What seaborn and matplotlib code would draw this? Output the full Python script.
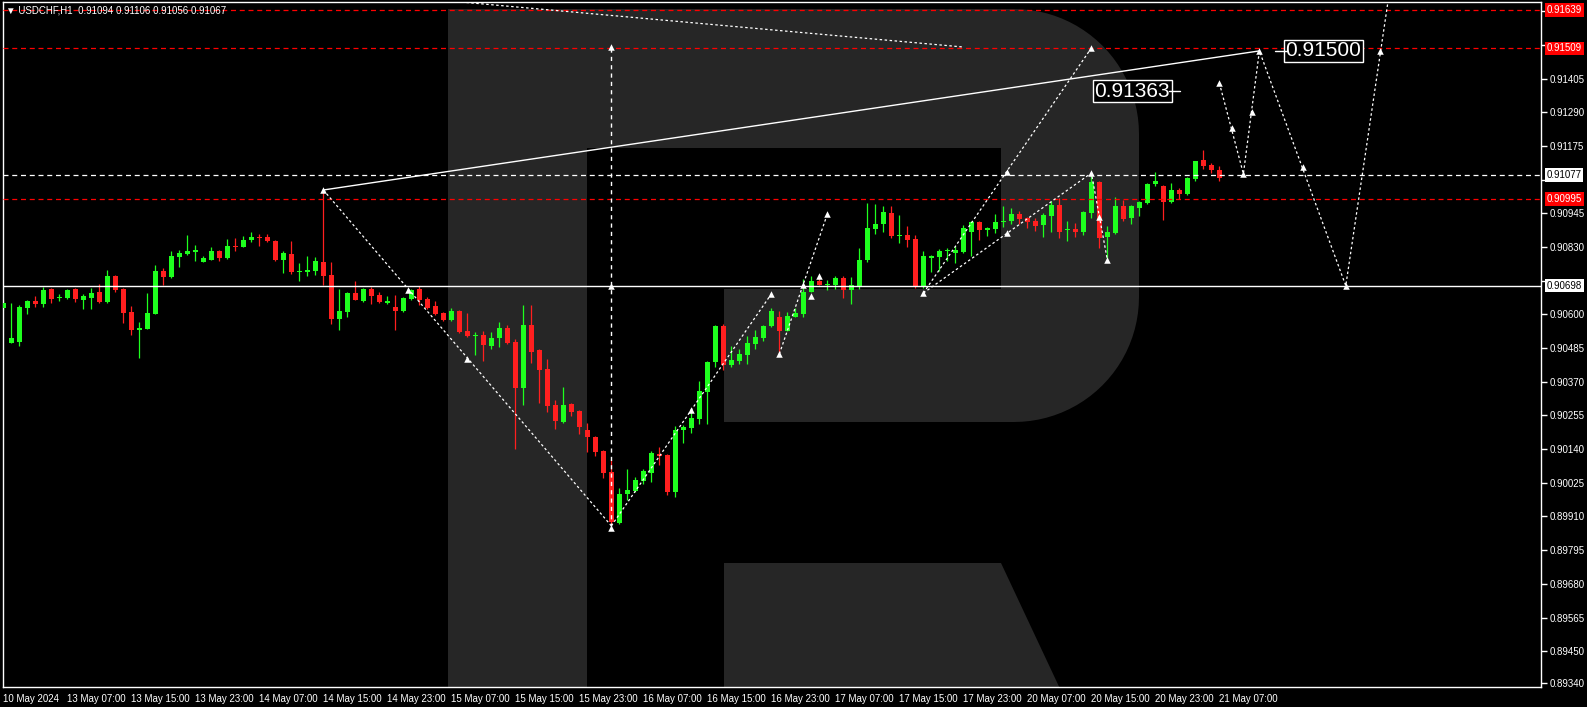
import numpy as np
import pandas as pd
import seaborn as sns
import matplotlib
matplotlib.use('Agg')
import matplotlib.pyplot as plt
import matplotlib.transforms as mtransforms
from matplotlib.path import Path
from matplotlib.patches import PathPatch

# USDCHF H1, velas desde 10 May 23:00 hasta 21 May 07:00 (indice = barra)
opens = [0.90622, 0.90503, 0.90506, 0.90622, 0.90646, 0.90636, 0.90687, 0.90656, 0.90656, 0.90687,
         0.90650, 0.90656, 0.90677, 0.90643, 0.90731, 0.90687, 0.90609, 0.90547, 0.90550, 0.90602,
         0.90749, 0.90728, 0.90796, 0.90807, 0.90813, 0.90779, 0.90786, 0.90817, 0.90793, 0.90834,
         0.90831, 0.90854, 0.90865, 0.90865, 0.90851, 0.90786, 0.90807, 0.90745, 0.90745, 0.90749,
         0.90779, 0.90735, 0.90585, 0.90609, 0.90673, 0.90646, 0.90687, 0.90667, 0.90639, 0.90626,
         0.90612, 0.90653, 0.90687, 0.90653, 0.90629, 0.90605, 0.90581, 0.90612, 0.90544, 0.90527,
         0.90530, 0.90492, 0.90520, 0.90554, 0.90506, 0.90349, 0.90564, 0.90479, 0.90414, 0.90291,
         0.90233, 0.90294, 0.90270, 0.90206, 0.90182, 0.90134, 0.90062, 0.89888, 0.89987, 0.89997,
         0.90031, 0.90059, 0.90124, 0.90121, 0.89994, 0.90206, 0.90212, 0.90243, 0.90335, 0.90438,
         0.90561, 0.90427, 0.90441, 0.90462, 0.90499, 0.90520, 0.90561, 0.90592, 0.90544, 0.90592,
         0.90602, 0.90677, 0.90714, 0.90701, 0.90701, 0.90725, 0.90684, 0.90694, 0.90786, 0.90892,
         0.90909, 0.90947, 0.90868, 0.90871, 0.90858, 0.90694, 0.90793, 0.90796, 0.90817, 0.90810,
         0.90813, 0.90882, 0.90916, 0.90889, 0.90892, 0.90916, 0.90919, 0.90943, 0.90930, 0.90919,
         0.90906, 0.90936, 0.90974, 0.90889, 0.90892, 0.90882, 0.90947, 0.91052, 0.90865, 0.90878,
         0.90971, 0.90930, 0.90964, 0.90981, 0.91046, 0.91039, 0.90984, 0.91025, 0.91011, 0.91063,
         0.91128, 0.91111, 0.91094]
highs = [0.90650, 0.90639, 0.90632, 0.90648, 0.90663, 0.90694, 0.90689, 0.90670, 0.90687, 0.90689,
         0.90670, 0.90691, 0.90704, 0.90752, 0.90735, 0.90689, 0.90629, 0.90574, 0.90673, 0.90769,
         0.90759, 0.90817, 0.90820, 0.90871, 0.90837, 0.90800, 0.90831, 0.90820, 0.90858, 0.90861,
         0.90868, 0.90882, 0.90875, 0.90875, 0.90854, 0.90817, 0.90851, 0.90776, 0.90800, 0.90796,
         0.91025, 0.90779, 0.90687, 0.90675, 0.90714, 0.90691, 0.90694, 0.90677, 0.90663, 0.90667,
         0.90658, 0.90687, 0.90697, 0.90660, 0.90646, 0.90609, 0.90622, 0.90615, 0.90605, 0.90540,
         0.90544, 0.90540, 0.90574, 0.90564, 0.90516, 0.90632, 0.90632, 0.90481, 0.90448, 0.90308,
         0.90352, 0.90296, 0.90272, 0.90229, 0.90184, 0.90136, 0.90103, 0.90008, 0.90072, 0.90045,
         0.90072, 0.90134, 0.90148, 0.90123, 0.90219, 0.90223, 0.90277, 0.90373, 0.90440, 0.90564,
         0.90567, 0.90492, 0.90482, 0.90527, 0.90547, 0.90564, 0.90622, 0.90612, 0.90609, 0.90622,
         0.90721, 0.90731, 0.90731, 0.90718, 0.90731, 0.90731, 0.90728, 0.90827, 0.90981, 0.90977,
         0.90971, 0.90971, 0.90940, 0.90902, 0.90871, 0.90817, 0.90803, 0.90824, 0.90827, 0.90834,
         0.90906, 0.90919, 0.90918, 0.90897, 0.90943, 0.90971, 0.90964, 0.90953, 0.90933, 0.90930,
         0.90947, 0.90988, 0.90998, 0.90919, 0.90913, 0.90952, 0.91083, 0.91055, 0.90902, 0.91001,
         0.90991, 0.90974, 0.90986, 0.91049, 0.91087, 0.91042, 0.91049, 0.91032, 0.91070, 0.91124,
         0.91162, 0.91117, 0.91106]
lows = [0.90615, 0.90501, 0.90492, 0.90602, 0.90626, 0.90626, 0.90639, 0.90646, 0.90653, 0.90643,
        0.90619, 0.90619, 0.90639, 0.90639, 0.90677, 0.90571, 0.90530, 0.90451, 0.90550, 0.90600,
        0.90701, 0.90725, 0.90762, 0.90803, 0.90783, 0.90779, 0.90786, 0.90783, 0.90789, 0.90817,
        0.90831, 0.90848, 0.90834, 0.90848, 0.90783, 0.90742, 0.90738, 0.90714, 0.90731, 0.90735,
        0.90701, 0.90567, 0.90547, 0.90592, 0.90648, 0.90643, 0.90636, 0.90639, 0.90636, 0.90547,
        0.90610, 0.90650, 0.90632, 0.90619, 0.90598, 0.90578, 0.90578, 0.90537, 0.90523, 0.90462,
        0.90441, 0.90482, 0.90489, 0.90499, 0.90141, 0.90291, 0.90434, 0.90298, 0.90267, 0.90209,
        0.90229, 0.90253, 0.90192, 0.90131, 0.90117, 0.90042, 0.89885, 0.89885, 0.89966, 0.89994,
        0.90021, 0.90028, 0.90086, 0.89984, 0.89977, 0.90161, 0.90195, 0.90226, 0.90226, 0.90421,
        0.90410, 0.90421, 0.90431, 0.90431, 0.90482, 0.90509, 0.90557, 0.90462, 0.90542, 0.90590,
        0.90592, 0.90675, 0.90699, 0.90684, 0.90687, 0.90656, 0.90636, 0.90687, 0.90779, 0.90875,
        0.90882, 0.90861, 0.90844, 0.90831, 0.90691, 0.90692, 0.90745, 0.90749, 0.90783, 0.90776,
        0.90811, 0.90800, 0.90854, 0.90868, 0.90878, 0.90899, 0.90909, 0.90909, 0.90895, 0.90885,
        0.90865, 0.90882, 0.90861, 0.90851, 0.90865, 0.90871, 0.90930, 0.90827, 0.90789, 0.90875,
        0.90919, 0.90909, 0.90936, 0.90977, 0.91039, 0.90923, 0.90981, 0.90994, 0.91008, 0.91056,
        0.91097, 0.91083, 0.91056]
closes = [0.90639, 0.90520, 0.90626, 0.90646, 0.90636, 0.90684, 0.90653, 0.90660, 0.90684, 0.90653,
          0.90663, 0.90673, 0.90643, 0.90731, 0.90684, 0.90605, 0.90547, 0.90554, 0.90605, 0.90749,
          0.90728, 0.90800, 0.90810, 0.90817, 0.90820, 0.90793, 0.90817, 0.90793, 0.90834, 0.90831,
          0.90854, 0.90865, 0.90861, 0.90851, 0.90786, 0.90810, 0.90745, 0.90749, 0.90752, 0.90783,
          0.90731, 0.90585, 0.90612, 0.90673, 0.90650, 0.90687, 0.90663, 0.90643, 0.90646, 0.90612,
          0.90656, 0.90684, 0.90650, 0.90622, 0.90602, 0.90581, 0.90612, 0.90540, 0.90527, 0.90530,
          0.90496, 0.90520, 0.90554, 0.90503, 0.90349, 0.90564, 0.90472, 0.90410, 0.90287, 0.90236,
          0.90291, 0.90267, 0.90216, 0.90182, 0.90131, 0.90059, 0.89891, 0.89987, 0.90001, 0.90035,
          0.90066, 0.90127, 0.90117, 0.89994, 0.90206, 0.90216, 0.90247, 0.90339, 0.90438, 0.90561,
          0.90427, 0.90445, 0.90465, 0.90503, 0.90523, 0.90561, 0.90612, 0.90544, 0.90595, 0.90605,
          0.90677, 0.90714, 0.90701, 0.90704, 0.90725, 0.90684, 0.90701, 0.90786, 0.90895, 0.90909,
          0.90950, 0.90868, 0.90871, 0.90854, 0.90694, 0.90800, 0.90800, 0.90817, 0.90820, 0.90820,
          0.90895, 0.90916, 0.90889, 0.90895, 0.90916, 0.90919, 0.90943, 0.90926, 0.90916, 0.90902,
          0.90940, 0.90974, 0.90882, 0.90892, 0.90882, 0.90950, 0.91052, 0.90861, 0.90882, 0.90971,
          0.90926, 0.90971, 0.90984, 0.91046, 0.91056, 0.90984, 0.91025, 0.91011, 0.91066, 0.91124,
          0.91107, 0.91093, 0.91067]

# etiquetas del eje de tiempo (barra, texto)
xtick_bars = [0, 8, 16, 24, 32, 40, 48, 56, 64, 72, 80, 88, 96, 104, 112, 120, 128, 136, 144, 152]
xtick_labels = ['10 May 2024', '13 May 07:00', '13 May 15:00', '13 May 23:00', '14 May 07:00',
                '14 May 15:00', '14 May 23:00', '15 May 07:00', '15 May 15:00', '15 May 23:00',
                '16 May 07:00', '16 May 15:00', '16 May 23:00', '17 May 07:00', '17 May 15:00',
                '17 May 23:00', '20 May 07:00', '20 May 15:00', '20 May 23:00', '21 May 07:00']
ytick_prices = [0.89340, 0.89450, 0.89565, 0.89680, 0.89795, 0.89910, 0.90025, 0.90140, 0.90255,
                0.90370, 0.90485, 0.90600, 0.90715, 0.90830, 0.90945, 0.91060, 0.91175, 0.91290,
                0.91405, 0.91520, 0.91635]
# estas quedan tapadas por las cajas de precio
ytick_hidden = [0.90715, 0.91060, 0.91520, 0.91635]

# niveles horizontales
red_levels = [0.91639, 0.91509, 0.90995]
white_dash_level = 0.91077
white_solid_level = 0.90698

# lineas de la prevision (barra, precio)
solid_bars = [40, 157]
solid_prices = [0.91025, 0.91500]
top_bars = [56, 120.1]
top_prices = [0.91670, 0.91513]
vert_bars = [76, 76]
vert_prices = [0.91509, 0.89878]
fall_bars = [40, 76]
fall_prices = [0.91025, 0.89878]
rise1_bars = [76, 96]
rise1_prices = [0.89878, 0.90670]
rise2_bars = [97, 103]
rise2_prices = [0.90465, 0.90943]
upa_bars = [115, 136]
upa_prices = [0.90673, 0.91510]
upb_bars = [115, 136, 138]
upb_prices = [0.90673, 0.91083, 0.90786]
fcst_bars = [152, 155, 157, 167.8, 173.3]
fcst_prices = [0.91390, 0.91080, 0.91500, 0.90698, 0.91710]

arrow_bars = [40, 76, 76, 76, 50.6, 58, 86, 96, 97, 100, 101, 102, 103, 115, 125.5, 125.5, 136, 136,
              137, 138, 152, 153.6, 155, 156.1, 157, 162.5, 167.8, 172.1]
arrow_prices = [0.91025, 0.91513, 0.90698, 0.89870, 0.90684, 0.90448, 0.90274, 0.90670, 0.90465,
                0.90701, 0.90663, 0.90731, 0.90943, 0.90673, 0.91086, 0.90878, 0.91510, 0.91083,
                0.90933, 0.90786, 0.91390, 0.91237, 0.91080, 0.91292, 0.91500, 0.91103, 0.90698,
                0.91500]

GREEN = '#1eff1e'
RED = '#ff1f1f'
LOGO = '#262626'

sns.set_theme(style='dark', rc={'figure.facecolor': 'black', 'axes.facecolor': 'black',
                                'axes.edgecolor': 'white', 'text.color': 'white',
                                'xtick.color': 'white', 'ytick.color': 'white'})
plt.rcParams['font.family'] = ['Liberation Sans', 'DejaVu Sans']

df = pd.DataFrame({'open': opens, 'high': highs, 'low': lows, 'close': closes})
df['bar'] = np.arange(len(df))
df['up'] = df['close'] >= df['open']
df['color'] = np.where(df['up'], GREEN, RED)

fig = plt.figure(figsize=(15.87, 7.07), dpi=100)
W, H = 1587, 707
ax = fig.add_axes([3 / W, (H - 686.5) / H, 1538 / W, 684.5 / H])
ax.set_xlim(-0.04, 192.2)
ax.set_ylim(0.893294, 0.916670)


# logo "R" de fondo, en pixeles de la imagen
def px(x, y):
    return ((x - 3) / 1538, (686.5 - y) / 684.5)


t1 = np.linspace(np.pi / 2, 0, 25)
t2 = np.linspace(0, -np.pi / 2, 25)
outer = [(448, 9), (1014, 9)]
outer += [(1014 + 125 * np.cos(t), 134 - 125 * np.sin(t)) for t in t1]
outer += [(1139, 297)]
outer += [(1014 + 125 * np.cos(t), 297 - 125 * np.sin(t)) for t in t2]
outer += [(724, 422), (724, 289), (1001, 289), (1001, 148), (587, 148), (587, 710), (448, 710), (448, 9)]
leg = [(724, 563), (1001, 563), (1070, 710), (724, 710), (724, 563)]
for shape in (outer, leg):
    pts = [px(x, y) for x, y in shape]
    codes = [Path.MOVETO] + [Path.LINETO] * (len(pts) - 2) + [Path.CLOSEPOLY]
    patch = PathPatch(Path(pts, codes), facecolor=LOGO, edgecolor='none',
                      transform=ax.transAxes, zorder=0)
    ax.add_patch(patch)

# velas
ax.vlines(df['bar'], df['low'], df['high'], colors=df['color'], lw=0.9, zorder=2)
body_low = df[['open', 'close']].min(axis=1)
body_h = (df['close'] - df['open']).abs().clip(lower=0.00003)
ax.bar(df['bar'], body_h, bottom=body_low, width=0.62, color=df['color'], linewidth=0, zorder=3)

# niveles
for lvl in red_levels:
    ax.axhline(lvl, color='red', lw=0.9, ls=(0, (4, 3)), zorder=4)
ax.axhline(white_dash_level, color='white', lw=0.9, ls=(0, (4, 3)), zorder=4)
ax.axhline(white_solid_level, color='white', lw=1.0, zorder=4)

# prevision
ax.plot(solid_bars, solid_prices, color='white', lw=1.0, zorder=5)
dot = (0, (2, 2))
for xs, ys in [(top_bars, top_prices), (fall_bars, fall_prices), (rise1_bars, rise1_prices),
               (rise2_bars, rise2_prices), (upa_bars, upa_prices), (upb_bars, upb_prices),
               (fcst_bars, fcst_prices)]:
    ax.plot(xs, ys, color='white', lw=0.9, ls=dot, zorder=5)
ax.plot(vert_bars, vert_prices, color='white', lw=1.0, ls=(0, (3, 3)), zorder=5)
sns.scatterplot(x=arrow_bars, y=arrow_prices, marker='^', s=22, color='white',
                edgecolor='white', linewidth=0, zorder=6, ax=ax, legend=False)

# etiquetas grandes de la prevision
ax.text(141.1, 0.91363, '0.91363', fontsize=15, color='white', ha='center', va='center', zorder=7,
        bbox=dict(boxstyle='square,pad=0.08', fc='black', ec='white', lw=1))
ax.plot([145.7, 147.1], [0.91363, 0.91363], color='white', lw=1, zorder=7)
ax.text(165.0, 0.91500, '0.91500', fontsize=15, color='white', ha='center', va='center', zorder=7,
        bbox=dict(boxstyle='square,pad=0.08', fc='black', ec='white', lw=1))
ax.plot([159.0, 160.5], [0.91500, 0.91500], color='white', lw=1, zorder=7)

# ejes
for s in ax.spines.values():
    s.set_color('white')
    s.set_linewidth(1)
ax.yaxis.tick_right()
ax.set_yticks(ytick_prices)
ax.set_yticklabels(['' if p in ytick_hidden else f'{p:.5f}' for p in ytick_prices])
ax.set_xticks(xtick_bars)
ax.set_xticklabels(xtick_labels, ha='left')
ax.tick_params(axis='both', colors='white', labelsize=7, length=4, width=1, direction='out')
ax.tick_params(axis='y', pad=2)
ax.tick_params(axis='x', pad=1.5)
ax.grid(False)

# cajas de precio a la derecha
trans = mtransforms.blended_transform_factory(ax.transAxes, ax.transData)
for lvl in red_levels:
    ax.text(1.0037, lvl, f'{lvl:.5f}', transform=trans, fontsize=7, color='white', va='center',
            ha='left', clip_on=False, zorder=8,
            bbox=dict(boxstyle='square,pad=0.18', fc='red', ec='none'))
for lvl in (white_dash_level, white_solid_level):
    ax.text(1.0037, lvl, f'{lvl:.5f}', transform=trans, fontsize=7, color='black', va='center',
            ha='left', clip_on=False, zorder=8,
            bbox=dict(boxstyle='square,pad=0.18', fc='white', ec='none'))

fig.text(6 / W, 1 - 10.5 / H, '\u25bc USDCHF,H1  0.91094 0.91106 0.91056 0.91067',
         fontsize=7, color='white', va='center', ha='left')

fig.savefig('out.png', dpi=100, facecolor='black')
